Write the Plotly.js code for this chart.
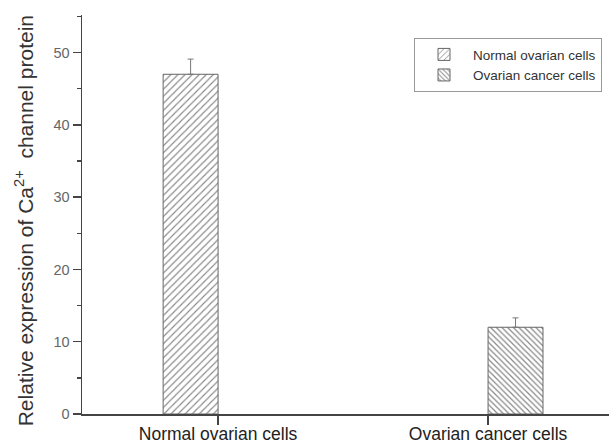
<!DOCTYPE html>
<html>
<head>
<meta charset="utf-8">
<script src="https://cdn.plot.ly/plotly-3.0.1.min.js"></script>
<style>html,body{margin:0;padding:0;background:#fff;}#chart{width:609px;height:444px;}</style>
</head>
<body>
<div id="chart"></div>
<script>
const categories = ["Normal ovarian cells", "Ovarian cancer cells"];
const seriesNames = ["Normal ovarian cells", "Ovarian cancer cells"];
const normalValues = [47, null];
const normalErrors = [2.1, 0];
const cancerValues = [null, 12];
const cancerErrors = [0, 1.3];
const yTickValues = [0, 10, 20, 30, 40, 50];
const yTitle = 'Relative expression of Ca<sup>2+</sup>  channel protein';

const traces = [
  {
    type: 'bar', x: categories,
    name: seriesNames[0],
    y: normalValues,
    marker: { color: '#ffffff', line: { color: '#666666', width: 1 },
      pattern: { shape: '/', fgcolor: '#888888', bgcolor: '#ffffff', size: 5, solidity: 0.22 } },
    error_y: { type: 'data', symmetric: false, array: normalErrors, arrayminus: [0, 0], color: '#777777', thickness: 1, width: 3 }
  },
  {
    type: 'bar', x: categories,
    name: seriesNames[1],
    y: cancerValues,
    marker: { color: '#ffffff', line: { color: '#666666', width: 1 },
      pattern: { shape: '\\', fgcolor: '#888888', bgcolor: '#ffffff', size: 4, solidity: 0.3 } },
    error_y: { type: 'data', symmetric: false, array: cancerErrors, arrayminus: [0, 0], color: '#777777', thickness: 1, width: 3 }
  }
];

const layout = {
  width: 609, height: 444,
  margin: { l: 82, r: 0, t: 15, b: 30 },
  paper_bgcolor: '#ffffff', plot_bgcolor: '#ffffff',
  barmode: 'group', bargap: 0.593, bargroupgap: 0,
  font: { family: 'Liberation Sans, Arial, sans-serif', color: '#333333' },
  showlegend: true,
  legend: {
    x: 0.63, xanchor: 'left', y: 0.942, yanchor: 'top',
    bordercolor: '#999999', borderwidth: 1, bgcolor: '#ffffff',
    font: { size: 13.5, color: '#333333' },
    tracegroupgap: 0, itemwidth: 48
  },
  xaxis: {
    type: 'category', range: [-0.504, 1.448],
    showline: true, linecolor: '#444444', linewidth: 1.5,
    ticks: 'outside', ticklen: 9, tickcolor: '#444444', tickwidth: 1.5,
    tickfont: { size: 17.5, color: '#222222' },
    ticklabelstandoff: -6,
    showgrid: false, zeroline: false, fixedrange: true
  },
  yaxis: {
    range: [0, 55.2],
    showline: true, linecolor: '#444444', linewidth: 1.5,
    ticks: 'outside', ticklen: 8, tickcolor: '#444444', tickwidth: 1.5,
    tickvals: yTickValues,
    tickfont: { size: 14.5, color: '#666666' },
    minor: { dtick: 5, ticks: 'outside', ticklen: 4, tickcolor: '#444444', tickwidth: 1.5, showgrid: false },
    showgrid: false, zeroline: false,
    automargin: false
  },
  annotations: [{
    text: yTitle, textangle: -90, showarrow: false,
    xref: 'paper', yref: 'paper', x: -0.11, y: 0.483,
    xanchor: 'center', yanchor: 'middle',
    font: { size: 21, color: '#333333' }
  }]
};

Plotly.newPlot('chart', traces, layout, { displayModeBar: false, staticPlot: true });
</script>
</body>
</html>
